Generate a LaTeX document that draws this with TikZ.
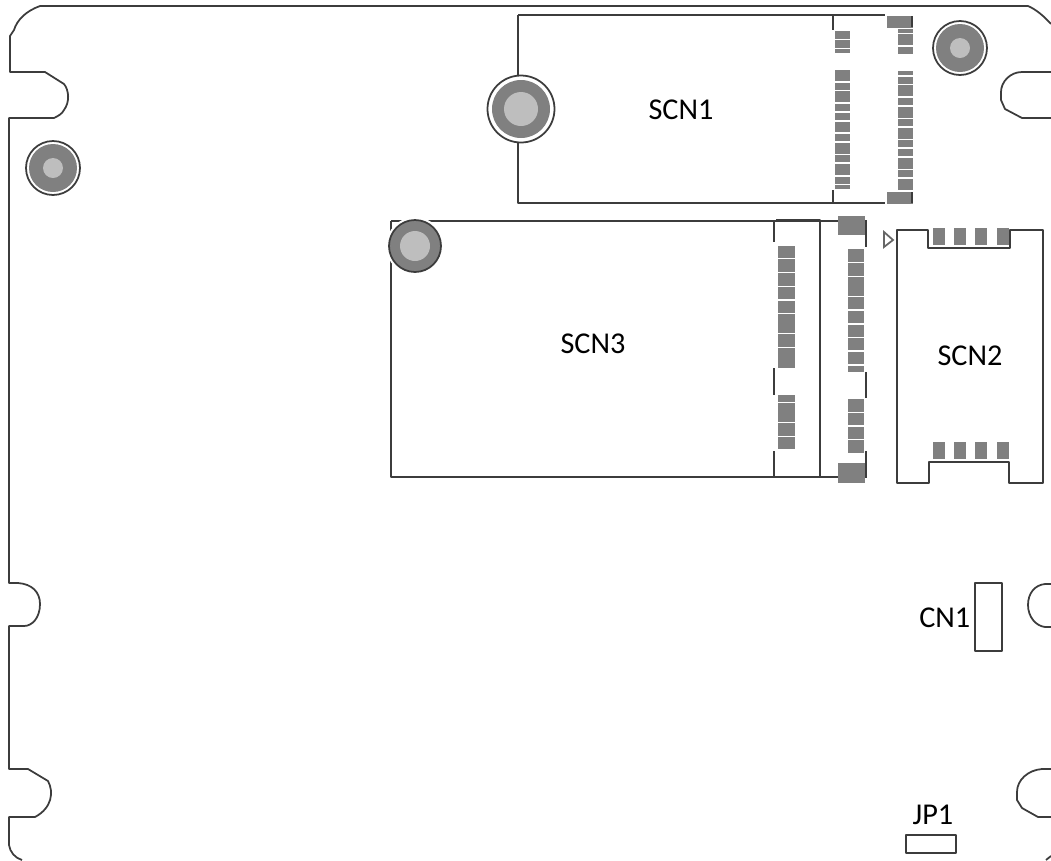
\documentclass[tikz,border=0pt]{standalone}
\usepackage{fontspec}
\setmainfont{Carlito}
\definecolor{padgray}{HTML}{808080}
\definecolor{corelight}{HTML}{BEBEBE}
\definecolor{edgedark}{HTML}{3C3C3C}
\tikzset{
  outline/.style={draw=edgedark, line width=0.5pt, line join=round},
  pad/.style={fill=padgray, draw=padgray, line width=0.25pt},
  partlabel/.style={font=\fontsize{8.6}{10}\selectfont, inner sep=0pt},
}
\begin{document}
\begin{tikzpicture}[x=0.01cm, y=-0.01cm]
  \useasboundingbox (0, 0) rectangle (1051, 860);
  % board edge, left side and top
  \draw[outline] (1051, 24) .. controls (1043, 15) and (1035, 9) .. (1028, 6) -- (40, 6)
    .. controls (26, 11) and (17, 20) .. (14, 30) -- (10, 36) -- (10, 72) -- (45, 72) -- (64, 84)
    .. controls (69, 90) and (70, 102) .. (64, 110) .. controls (62, 114) and (58, 116) .. (54, 118)
    -- (9, 118) -- (9, 583) -- (18, 583) .. controls (32, 584) and (40, 592) .. (40, 604)
    .. controls (40, 618) and (32, 626) .. (24, 626) -- (9, 626) -- (9, 769) -- (28, 769) -- (48, 781)
    .. controls (54, 792) and (52, 808) .. (35, 817) -- (9, 817) -- (9, 845)
    .. controls (10, 852) and (15, 858) .. (22, 860);
  % notches, right side
  \draw[outline] (1051, 72) -- (1022, 72) .. controls (1010, 72) and (1001, 82) .. (1001, 92)
    -- (1001, 100) -- (1005, 109) -- (1022, 118) -- (1051, 118);
  \draw[outline] (1051, 584) -- (1045, 584) .. controls (1035, 585) and (1028, 593) .. (1028, 605)
    .. controls (1028, 617) and (1036, 626) .. (1045, 627) -- (1051, 627);
  \draw[outline] (1051, 769) -- (1042, 769) .. controls (1028, 770) and (1017, 780) .. (1017, 792)
    -- (1017, 800) -- (1022, 808) -- (1038, 817) -- (1051, 817);
  \draw[outline] (1051, 856) -- (1046, 860);

  % SCN1
  \draw[outline] (518, 15) -- (885, 15);
  \draw[outline] (518, 15) -- (518, 203) -- (885, 203);
  \draw[outline] (833, 15) -- (833, 30);
  \draw[outline] (833, 190) -- (833, 203);
  \foreach \ya/\yb in {31/38, 40/47, 49/52, 70/80, 83/89, 91/101, 104/110, 113/119, 122/131,
      134/140, 143/153, 155/161, 164/174, 177/183, 185/188}
    \draw[pad] (835, \ya) rectangle (849, \yb);
  \foreach \ya/\yb in {29/32, 34/44, 47/53, 71/74, 77/83, 85/95, 98/104, 107/117, 119/125,
      128/138, 140/146, 149/155, 158/168, 170/176, 179/189}
    \draw[pad] (898, \ya) rectangle (912, \yb);
  \draw[pad] (887, 16) rectangle (912, 27);
  \draw[pad] (887, 192) rectangle (912, 203);
  \draw[edgedark, line width=0.4pt] (912, 16) -- (912, 27);
  \draw[edgedark, line width=0.4pt] (912, 192) -- (912, 203);
  \node[partlabel] (scn1) at (681, 110) {SCN1};

  % SCN3
  \draw[outline] (391, 221) -- (866, 221);
  \draw[outline] (391, 221) -- (391, 477) -- (866, 477);
  \draw[outline, line width=0.65pt] (776, 220) -- (820, 220) -- (820, 477) -- (776, 477);
  \foreach \ya/\yb in {220/242, 368/395, 451/478}
    \draw[outline] (774, \ya) -- (774, \yb);
  \foreach \ya/\yb in {246/257, 259/271, 273/285, 287/298, 301/312, 314/332, 334/346, 348/360,
      361/367, 395/401, 403/421, 423/435, 437/448}
    \draw[pad] (778, \ya) rectangle (794, \yb);
  \foreach \ya/\yb in {249/261, 263/275, 277/295, 297/308, 311/322, 325/336, 338/349, 352/363,
      366/371, 399/411, 413/424, 427/438, 440/452}
    \draw[pad] (848, \ya) rectangle (863, \yb);
  \draw[pad] (838, 216) rectangle (864, 234);
  \draw[pad] (838, 463) rectangle (864, 482);
  \foreach \ya/\yb in {220/247, 372/398, 451/478}
    \draw[outline] (866, \ya) -- (866, \yb);
  \node[partlabel] (scn3) at (593, 344) {SCN3};

  % SCN2
  \draw[outline] (897, 230) -- (928, 230) -- (928, 248) -- (1010, 248) -- (1010, 230) -- (1043, 230)
    -- (1043, 483) -- (1009, 483) -- (1009, 462) -- (929, 462) -- (929, 483) -- (897, 483) -- cycle;
  \draw[draw=black!60, line width=0.5pt] (884, 232) -- (893, 240) -- (884, 247) -- cycle;
  \foreach \xa/\xb in {933/944, 954/965, 975/986, 997/1008} {
    \draw[pad] (\xa, 228) rectangle (\xb, 244);
    \draw[pad] (\xa, 442) rectangle (\xb, 458);
  }
  \node[partlabel] (scn2) at (970, 356) {SCN2};

  % CN1 and JP1
  \draw[outline] (975, 583) rectangle (1002, 651);
  \node[partlabel, left=0pt] (cn1) at (971, 618) {CN1};
  \draw[outline] (906, 835) rectangle (956, 853);
  \node[partlabel] (jp1) at (933, 815) {JP1};

  % standoffs
  \foreach \cx/\cy/\ro/\rg/\ri in {53/168/27/24/10, 960/48/27/24/10, 521/109/33.5/29/17} {
    \fill[white] (\cx, \cy) circle [x radius=\ro, y radius=\ro];
    \draw[outline] (\cx, \cy) circle [x radius=\ro, y radius=\ro];
    \fill[padgray] (\cx, \cy) circle [x radius=\rg, y radius=\rg];
    \fill[corelight] (\cx, \cy) circle [x radius=\ri, y radius=\ri];
  }
  \fill[white] (415, 246) circle [x radius=29, y radius=29];
  \filldraw[fill=padgray, outline] (415, 246) circle [x radius=26, y radius=26];
  \fill[corelight] (415, 246) circle [x radius=15, y radius=15];
\end{tikzpicture}
\end{document}
